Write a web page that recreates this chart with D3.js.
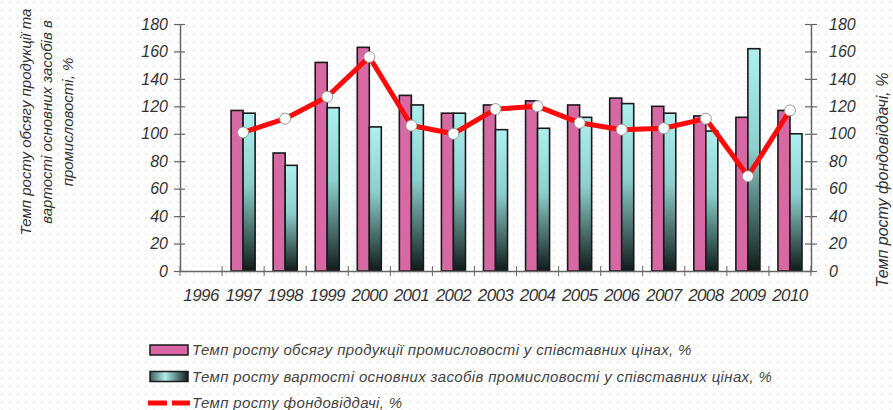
<!DOCTYPE html>
<html>
<head>
<meta charset="utf-8">
<script src="https://cdn.jsdelivr.net/npm/d3@7"></script>
<style>
  body { margin: 0; background: #fff; }
  svg { display: block; font-family: "Liberation Sans", Arial, sans-serif; }
</style>
</head>
<body>
<div id="chart"></div>
<script>
var years = ['1996', '1997', '1998', '1999', '2000', '2001', '2002', '2003', '2004', '2005', '2006', '2007', '2008', '2009', '2010'];
// growth of industrial output, % (no data for 1996)
var outputGrowth = [null, 117, 86, 152, 163, 128, 115, 121, 124, 121, 126, 120, 113, 112, 117];
// growth of fixed assets value, %
var assetsGrowth = [null, 115, 77, 119, 105, 121, 115, 103, 104, 112, 122, 115, 102, 162, 100];
// growth of capital productivity, %
var productivityGrowth = [null, 101, 111, 127, 156, 106, 100, 118, 120, 108, 103, 104, 111, 69, 117];
var yTicks = [0, 20, 40, 60, 80, 100, 120, 140, 160, 180];

var legendLabels = [
  'Темп росту обсягу продукції промисловості у співставних цінах, %',
  'Темп росту вартості основних засобів промисловості у співставних цінах, %',
  'Темп росту фондовіддачі, %'
];

var width = 893, height = 410;
var svg = d3.select('#chart').append('svg')
  .attr('width', width)
  .attr('height', height);

var defs = svg.append('defs');

// dotted paper background
var dots = defs.append('pattern')
  .attr('id', 'dots')
  .attr('width', 8).attr('height', 8)
  .attr('patternUnits', 'userSpaceOnUse');
dots.append('circle').attr('cx', 2).attr('cy', 2).attr('r', 0.8).attr('fill', '#d6d6d6');

var teal = defs.append('linearGradient')
  .attr('id', 'teal')
  .attr('x1', 0).attr('y1', 0).attr('x2', 0).attr('y2', 1);
teal.append('stop').attr('offset', '0%').attr('stop-color', '#aef0ee');
teal.append('stop').attr('offset', '45%').attr('stop-color', '#8ccfcc');
teal.append('stop').attr('offset', '80%').attr('stop-color', '#3d5e5b');
teal.append('stop').attr('offset', '100%').attr('stop-color', '#0f1a19');

var tealH = defs.append('linearGradient')
  .attr('id', 'tealH')
  .attr('x1', 0).attr('y1', 0).attr('x2', 1).attr('y2', 0);
tealH.append('stop').attr('offset', '0%').attr('stop-color', '#3d5e5b');
tealH.append('stop').attr('offset', '40%').attr('stop-color', '#aef0ee');
tealH.append('stop').attr('offset', '100%').attr('stop-color', '#0f1a19');

// speckled pink
var pinkTex = defs.append('filter').attr('id', 'speckle');
pinkTex.append('feTurbulence').attr('type', 'fractalNoise').attr('baseFrequency', 1.2).attr('numOctaves', 1).attr('result', 'n');
pinkTex.append('feColorMatrix').attr('in', 'n').attr('type', 'matrix')
  .attr('values', '0 0 0 0 0.55  0 0 0 0 0.2  0 0 0 0 0.4  0 0 0 -1.2 0.7').attr('result', 'c');
pinkTex.append('feComposite').attr('in', 'c').attr('in2', 'SourceGraphic').attr('operator', 'atop');

svg.append('rect').attr('width', width).attr('height', height).attr('fill', 'url(#dots)');

var x = d3.scaleBand()
  .domain(years)
  .range([180, 811]);

var inner = d3.scaleBand()
  .domain(['out', 'assets'])
  .range([0, x.bandwidth()])
  .paddingOuter(0.75);

var y = d3.scaleLinear()
  .domain([0, 180])
  .range([271, 24]);

var textColor = '#333';
var axisColor = '#666';

// bars
var groups = svg.selectAll('.year')
  .data(years)
  .enter()
  .append('g')
  .attr('class', 'year')
  .attr('transform', (d) => 'translate(' + x(d) + ',0)');

groups.filter((d, i) => outputGrowth[i] != null)
  .append('rect')
  .attr('x', inner('out'))
  .attr('width', inner.bandwidth())
  .attr('y', (d) => y(outputGrowth[years.indexOf(d)]))
  .attr('height', (d) => y(0) - y(outputGrowth[years.indexOf(d)]))
  .attr('fill', '#d866a2')
  .attr('filter', 'url(#speckle)');
groups.filter((d, i) => outputGrowth[i] != null)
  .append('rect')
  .attr('x', inner('out'))
  .attr('width', inner.bandwidth())
  .attr('y', (d) => y(outputGrowth[years.indexOf(d)]))
  .attr('height', (d) => y(0) - y(outputGrowth[years.indexOf(d)]))
  .attr('fill', 'none')
  .attr('stroke', '#1a1a1a')
  .attr('stroke-width', 1.6);

groups.filter((d, i) => assetsGrowth[i] != null)
  .append('rect')
  .attr('x', inner('assets'))
  .attr('width', inner.bandwidth())
  .attr('y', (d) => y(assetsGrowth[years.indexOf(d)]))
  .attr('height', (d) => y(0) - y(assetsGrowth[years.indexOf(d)]))
  .attr('fill', 'url(#teal)')
  .attr('stroke', '#1a1a1a')
  .attr('stroke-width', 1.6);

// axes
var leftAxis = svg.append('g')
  .attr('transform', 'translate(180,0)')
  .call(d3.axisLeft(y).tickValues(yTicks).tickSize(5).tickSizeOuter(0));
leftAxis.selectAll('.tick line').attr('x2', 5).attr('x1', -6);
leftAxis.selectAll('text').attr('x', -12);

var rightAxis = svg.append('g')
  .attr('transform', 'translate(811,0)')
  .call(d3.axisRight(y).tickValues(yTicks).tickSize(5).tickSizeOuter(0));
rightAxis.selectAll('.tick line').attr('x1', -6).attr('x2', 6);
rightAxis.selectAll('text').attr('x', 18);

var bottomAxis = svg.append('g')
  .attr('transform', 'translate(0,' + y(0) + ')')
  .call(d3.axisBottom(x).tickSize(0).tickSizeOuter(0));
bottomAxis.selectAll('text').attr('dy', '1.6em');
// cross ticks at band boundaries
bottomAxis.selectAll('.sep')
  .data(years.concat(['end']))
  .enter()
  .append('line')
  .attr('class', 'sep')
  .attr('x1', (d, i) => x.range()[0] + i * x.step())
  .attr('x2', (d, i) => x.range()[0] + i * x.step())
  .attr('y1', -5).attr('y2', 5)
  .attr('stroke', axisColor);

svg.selectAll('.domain').attr('stroke', axisColor).attr('stroke-width', 1.5);
svg.selectAll('.tick line').attr('stroke', axisColor).attr('stroke-width', 1.2);
svg.selectAll('.tick text')
  .attr('fill', textColor)
  .attr('font-size', 16)
  .attr('font-style', 'italic')
  .attr('font-family', '"Liberation Sans", Arial, sans-serif');
bottomAxis.selectAll('.tick text').attr('font-size', 17).attr('letter-spacing', -0.6);

// productivity line
var lineData = years.map((d, i) => ({ year: d, v: productivityGrowth[i] }))
  .filter((d) => d.v != null);

var line = d3.line()
  .x((d) => x(d.year) + x.bandwidth() / 2)
  .y((d) => y(d.v));

svg.append('path')
  .datum(lineData)
  .attr('d', line)
  .attr('fill', 'none')
  .attr('stroke', '#ff0a0a')
  .attr('stroke-width', 5)
  .attr('stroke-linejoin', 'round');

svg.selectAll('.marker')
  .data(lineData)
  .enter()
  .append('circle')
  .attr('class', 'marker')
  .attr('cx', (d) => x(d.year) + x.bandwidth() / 2)
  .attr('cy', (d) => y(d.v))
  .attr('r', 5.5)
  .attr('fill', '#fff')
  .attr('stroke', '#999')
  .attr('stroke-width', 1);

// axis titles
var leftTitle = svg.append('text')
  .attr('transform', 'translate(47,122) rotate(-90)')
  .attr('text-anchor', 'middle')
  .attr('font-size', 15)
  .attr('font-style', 'italic')
  .attr('fill', textColor);
['Темп росту обсягу продукції та', 'вартості основних засобів в', 'промисловості, %'].forEach((t, i) => {
  leftTitle.append('tspan')
    .attr('x', 0)
    .attr('dy', i === 0 ? '-1.1em' : '1.4em')
    .text(t);
});

svg.append('text')
  .attr('transform', 'translate(888,180) rotate(-90)')
  .attr('text-anchor', 'middle')
  .attr('font-size', 16)
  .attr('font-style', 'italic')
  .attr('fill', textColor)
  .text('Темп росту фондовіддачі, %');

// legend
var legend = svg.append('g').attr('transform', 'translate(150,350)');
var rows = legend.selectAll('.row')
  .data(legendLabels)
  .enter()
  .append('g')
  .attr('class', 'row')
  .attr('transform', (d, i) => 'translate(0,' + i * 26.5 + ')');

rows.filter((d, i) => i === 0).append('rect')
  .attr('x', 0).attr('y', -5).attr('width', 38).attr('height', 10)
  .attr('fill', '#d866a2').attr('stroke', '#1a1a1a').attr('stroke-width', 1.5);
rows.filter((d, i) => i === 1).append('rect')
  .attr('x', 0).attr('y', -5).attr('width', 38).attr('height', 10)
  .attr('fill', 'url(#tealH)').attr('stroke', '#1a1a1a').attr('stroke-width', 1.5);
rows.filter((d, i) => i === 2).append('line')
  .attr('x1', -2).attr('x2', 40).attr('y1', 0).attr('y2', 0)
  .attr('stroke', '#ff0a0a').attr('stroke-width', 5)
  .attr('stroke-dasharray', '19,5');

rows.append('text')
  .attr('x', 42)
  .attr('dy', '0.35em')
  .attr('font-size', 15)
  .attr('letter-spacing', 0.35)
  .attr('font-style', 'italic')
  .attr('fill', '#444')
  .text((d) => d);
</script>
</body>
</html>
